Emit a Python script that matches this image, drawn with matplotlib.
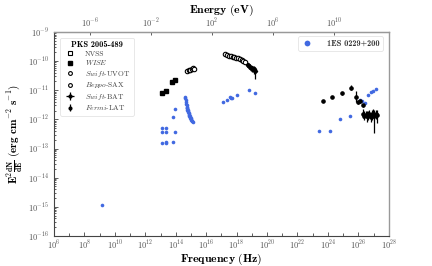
import matplotlib
matplotlib.use('Agg')

import matplotlib.pyplot as plt
import numpy as np
from matplotlib.ticker import LogLocator, NullFormatter, LogFormatterSciNotation

matplotlib.rcParams['font.family'] = 'serif'
matplotlib.rcParams['font.serif'] = ['cmr10']
matplotlib.rcParams['mathtext.fontset'] = 'cm'
matplotlib.rcParams['axes.formatter.use_mathtext'] = True

H_EV = 4.135667e-15  # eV per Hz

# ---- PKS 2005-489 (log10 nu [Hz], log10 nuFnu [erg cm-2 s-1]) ----
wise_lognu = [13.11, 13.33, 13.77, 13.95]
wise_logf = [-11.08, -11.02, -10.73, -10.64]

uvot_lognu = [14.74, 14.84, 14.94, 15.04, 15.12, 15.18]
uvot_logf = [-10.33, -10.31, -10.29, -10.27, -10.24, -10.28]

sax_lognu = [17.25, 17.37, 17.49, 17.61, 17.73, 17.85, 17.97, 18.09, 18.21, 18.33, 18.45, 18.57]
sax_logf = [-9.76, -9.79, -9.81, -9.83, -9.85, -9.87, -9.89, -9.91, -9.93, -9.96, -9.99, -10.03]

bat_lognu = [18.72, 18.82, 18.92, 19.02, 19.12, 19.22]
bat_logf = [-10.12, -10.18, -10.25, -10.24, -10.28, -10.33]
bat_err_lo = [0.08, 0.08, 0.10, 0.12, 0.15, 0.30]
bat_err_hi = [0.06, 0.06, 0.08, 0.08, 0.10, 0.12]

lat_lognu = [23.68, 24.30, 24.91, 25.52, 25.87, 25.98, 26.10, 26.28,
             26.32, 26.40, 26.48, 26.56, 26.64, 26.72, 26.80, 26.88, 26.97, 27.05, 27.13, 27.20]
lat_logf = [-11.36, -11.24, -11.10, -10.91, -11.22, -11.42, -11.38, -11.52,
            -11.80, -11.88, -11.84, -11.90, -11.86, -11.82, -11.92, -11.85, -11.80, -11.88, -11.83, -11.86]
lat_err = [0.04, 0.04, 0.05, 0.08, 0.20, 0.06, 0.06, 0.06,
           0.15, 0.15, 0.12, 0.18, 0.15, 0.14, 0.18, 0.16, 0.15, 0.20, 0.15, 0.17]
lat_err_lo = [0.04, 0.04, 0.05, 0.08, 0.20, 0.06, 0.06, 0.06,
              0.15, 0.15, 0.12, 0.18, 0.15, 0.14, 0.18, 0.16, 0.15, 0.60, 0.15, 0.25]

# ---- 1ES 0229+200 ----
es_lognu = [9.15,
            13.11, 13.33, 13.11, 13.37, 13.93, 13.79, 13.11, 13.35, 13.37, 13.95, 13.79,
            14.63, 14.64, 14.66, 14.67, 14.69, 14.71, 14.74, 14.72, 14.77, 14.75, 14.80,
            14.82, 14.78, 14.86, 14.84, 14.90, 14.88, 14.94, 14.97, 14.93, 15.00, 15.03,
            15.06, 15.10, 15.12,
            17.12, 17.38, 17.56, 17.67, 17.62, 18.04, 18.82, 19.20,
            23.42, 24.12, 24.78, 25.48, 26.10, 26.27, 26.42, 26.64, 26.80, 26.97, 27.19]
es_logf = [-14.95,
           -12.28, -12.28, -12.45, -12.45, -12.45, -12.76, -12.82, -12.82, -12.79, -11.64, -11.92,
           -11.22, -11.28, -11.34, -11.40, -11.46, -11.52, -11.56, -11.60, -11.62, -11.67, -11.68,
           -11.74, -11.72, -11.78, -11.82, -11.85, -11.88, -11.90, -11.94, -11.96, -11.98, -12.01,
           -12.04, -12.06, -12.08,
           -11.39, -11.33, -11.22, -11.28, -11.26, -11.16, -10.99, -11.08,
           -12.39, -12.41, -11.99, -11.87, -11.33, -11.37, -11.45, -11.16, -11.06, -11.03, -10.96]


def lin(a):
  return 10 ** np.asarray(a, dtype=float)


def yerr(logf, lo, hi):
  f = lin(logf)
  return [f - f / lin(lo), f * lin(hi) - f]


fig = plt.figure(figsize=(4.32, 2.66), dpi=100)
ax = fig.add_axes([0.125, 0.113, 0.775, 0.767])
ax.set_xscale('log')
ax.set_yscale('log')

blue = 'royalblue'
es, = ax.plot(lin(es_lognu), lin(es_logf), 'o', color=blue, ms=2.6, mew=0, zorder=2)

k = 'black'
ax.plot([], [], 's', mfc='none', mec=k, ms=2.6, mew=0.8, ls='none', label='NVSS')
ax.plot(lin(wise_lognu), lin(wise_logf), 's', color=k, ms=2.8, ls='none',
        label=r'$\it{WISE}$', zorder=3)
ax.plot(lin(uvot_lognu), lin(uvot_logf), 'o', mfc='white', mec=k, ms=3.2, mew=0.8,
        ls='none', label=r'$\it{Swift}$-UVOT', zorder=3)
ax.plot(lin(sax_lognu), lin(sax_logf), 'o', mfc='white', mec=k, ms=3.2, mew=0.8,
        ls='none', label=r'$\it{Beppo}$-SAX', zorder=3)
ax.errorbar(lin(bat_lognu), lin(bat_logf), yerr=yerr(bat_logf, bat_err_lo, bat_err_hi),
            xerr=[lin(bat_lognu) * 0.12, lin(bat_lognu) * 0.12],
            fmt='D', color=k, ms=2.2, elinewidth=0.9, capsize=0, label=r'$\it{Swift}$-BAT', zorder=3)
ax.errorbar(lin(lat_lognu), lin(lat_logf), yerr=yerr(lat_logf, lat_err_lo, lat_err),
            fmt='o', color=k, ms=2.3, elinewidth=0.9, capsize=0, label=r'$\it{Fermi}$-LAT', zorder=3)

ax.set_xlim(1e6, 1e28)
ax.set_ylim(1e-16, 1e-9)
ax.set_xticks([10.0 ** e for e in range(6, 29, 2)])
ax.xaxis.set_minor_locator(LogLocator(base=10, subs=[1.0], numticks=40))
ax.xaxis.set_minor_formatter(NullFormatter())
ax.xaxis.set_major_formatter(LogFormatterSciNotation())
ax.set_yticks([10.0 ** e for e in range(-16, -8)])
ax.yaxis.set_minor_locator(LogLocator(base=10, subs=np.arange(2, 10), numticks=40))
ax.yaxis.set_minor_formatter(NullFormatter())
ax.tick_params(axis='both', which='both', direction='in', labelsize=6, colors='#444444',
               labelcolor='#555555', width=0.6, pad=3.5)
ax.tick_params(axis='x', pad=2)
ax.tick_params(which='major', length=3)
ax.tick_params(which='minor', length=1.5)
ax.tick_params(axis='x', which='minor', length=2)

for s in ['left', 'bottom']:
  ax.spines[s].set_color('#444444')
  ax.spines[s].set_linewidth(0.8)
for s in ['top', 'right']:
  ax.spines[s].set_color('#999999')
  ax.spines[s].set_linewidth(1.0)

secax = ax.secondary_xaxis('top', functions=(lambda x: x * H_EV, lambda e: e / H_EV))
secax.set_xticks([1e-6, 1e-2, 1e2, 1e6, 1e10])
secax.xaxis.set_minor_locator(LogLocator(base=10, subs=[1.0], numticks=40))
secax.xaxis.set_minor_formatter(NullFormatter())
secax.tick_params(axis='x', which='both', direction='in', labelsize=6, labelcolor='#555555',
                  width=0.6, length=2.5, colors='#444444', pad=1.5)
secax.tick_params(axis='x', which='minor', length=0)
secax.spines['top'].set_color('#999999')
secax.set_xlabel(r'$\mathbf{Energy\ (eV)}$', fontsize=8.5, labelpad=3)

ax.set_xlabel(r'$\mathbf{Frequency\ (Hz)}$', fontsize=8.5, labelpad=0)
ax.set_ylabel(r'$\mathbf{E^2\frac{dN}{dE}\ (erg\ cm^{-2}\ s^{-1})}$', fontsize=8, labelpad=2)

leg1 = ax.legend(loc='upper left', fontsize=5.4, title='PKS 2005-489',
                 title_fontproperties={'family': 'cmb10', 'size': 6},
                 handletextpad=1.2, labelspacing=0.2, markerscale=0.85, handlelength=1.6,
                 borderpad=0.45, frameon=True, fancybox=True, bbox_to_anchor=(0.008, 0.99))
leg1.get_frame().set_edgecolor('#dddddd')
leg1.get_frame().set_linewidth(0.6)
for t in leg1.get_texts():
  t.set_color('#444444')
ax.add_artist(leg1)

leg2 = ax.legend([es], ['1ES 0229+200'], loc='upper right',
                 prop={'family': 'cmb10', 'size': 6},
                 markerscale=1.6, handletextpad=1.6, handlelength=1.5, borderpad=0.4,
                 fancybox=True, bbox_to_anchor=(0.995, 1.0))
leg2.get_frame().set_edgecolor('#dddddd')
leg2.get_frame().set_linewidth(0.6)
for t in leg2.get_texts():
  t.set_color('#333333')

fig.savefig('out.png', dpi=100)
